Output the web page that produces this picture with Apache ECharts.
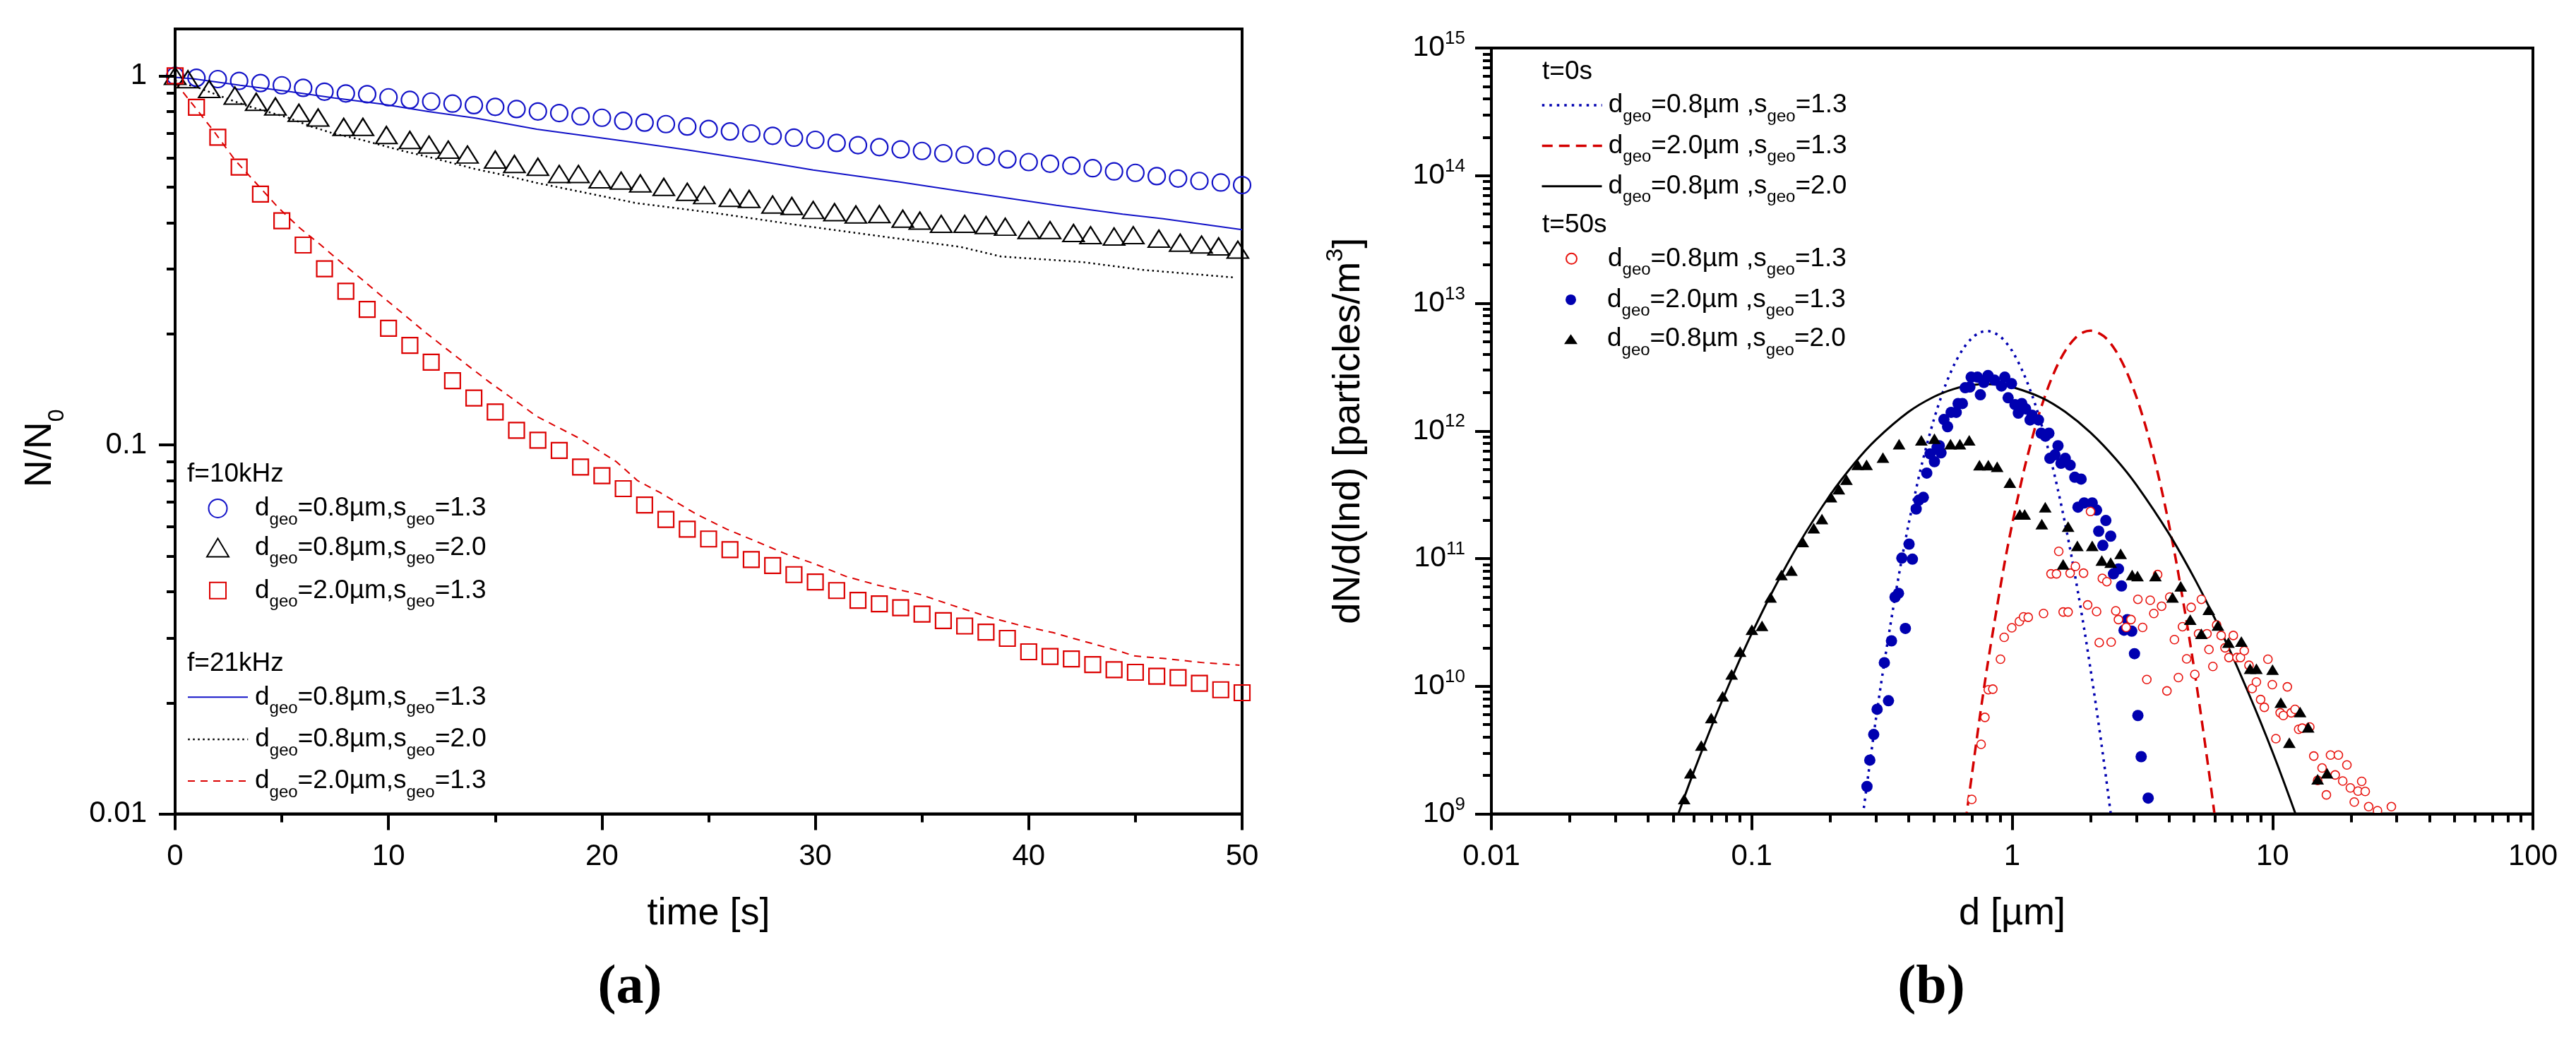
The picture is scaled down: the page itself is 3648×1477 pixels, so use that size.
<!DOCTYPE html>
<html><head><meta charset="utf-8">
<script src="https://cdn.jsdelivr.net/npm/echarts@6/dist/echarts.min.js"></script>
<style>html,body{margin:0;padding:0;background:#fff}#c{width:3648px;height:1477px}</style>
</head><body><div id="c"></div>
<script>
// ================= Panel (a) data =================
const timeA = [0,1,2,3,4,5,6,7,8,9,10,11,12,13,14,15,16,17,18,19,20,21,22,23,24,25,26,27,28,29,30,31,32,33,34,35,36,37,38,39,40,41,42,43,44,45,46,47,48,49,50];
// f=10kHz, dgeo=0.8, sgeo=1.3 (blue circles)
const circ10 = [1.0,0.988,0.980,0.969,0.956,0.943,0.928,0.906,0.896,0.892,0.875,0.861,0.852,0.841,0.833,0.824,0.813,0.801,0.793,0.777,0.770,0.755,0.747,0.740,0.729,0.718,0.707,0.698,0.688,0.680,0.671,0.658,0.649,0.641,0.632,0.626,0.617,0.611,0.604,0.594,0.584,0.578,0.571,0.562,0.551,0.546,0.535,0.527,0.519,0.514,0.506];
// f=10kHz, dgeo=0.8, sgeo=2.0 (black triangles)
const triTime10 = [0,0.6,1.6,2.8,3.8,4.7,5.8,6.7,7.9,8.8,9.9,11.0,11.9,12.8,13.7,15.0,15.9,17.0,18.0,18.9,19.9,20.9,21.8,22.9,24.0,24.8,26.0,26.9,28.0,28.9,29.9,30.9,31.9,33.0,34.1,34.9,35.9,37.0,38.0,38.9,40.0,41.0,42.1,42.9,44.0,44.9,46.1,47.1,48.1,48.9,49.8];
const tri10 = [1.0,0.979,0.921,0.884,0.850,0.826,0.794,0.771,0.727,0.727,0.691,0.670,0.651,0.631,0.612,0.593,0.577,0.567,0.542,0.542,0.524,0.520,0.511,0.500,0.485,0.475,0.467,0.464,0.448,0.444,0.433,0.427,0.421,0.422,0.410,0.405,0.397,0.397,0.394,0.390,0.382,0.382,0.375,0.370,0.367,0.370,0.362,0.353,0.349,0.345,0.338];
// f=10kHz, dgeo=2.0, sgeo=1.3 (red squares)
const sq10 = [1.0,0.822,0.682,0.566,0.478,0.405,0.348,0.300,0.261,0.233,0.207,0.186,0.1676,0.1492,0.134,0.1228,0.1095,0.103,0.0966,0.0871,0.0825,0.0761,0.0687,0.0628,0.0591,0.0556,0.0520,0.0489,0.0471,0.0445,0.0425,0.0403,0.0379,0.0371,0.0362,0.0348,0.0334,0.0323,0.0311,0.0299,0.0275,0.0267,0.0263,0.0254,0.0246,0.0242,0.0236,0.0234,0.0226,0.0217,0.0213];
// f=21kHz lines
const blue21T = [0,0.84,3.05,5.26,7.46,9.67,11.87,14.08,16.95,21.6,24.0,27.2,29.9,33.9,37.2,41.3,44.4,46.3,50];
const blue21V = [0.991,0.982,0.943,0.908,0.871,0.839,0.800,0.768,0.717,0.659,0.630,0.590,0.556,0.516,0.483,0.446,0.422,0.410,0.383];
const black21T = [0,1.17,2.1,3.38,5.25,6.35,7.46,8.56,9.66,10.77,11.87,12.97,14.07,15.18,16.94,21.62,25.42,29.21,33.0,36.8,38.7,42.5,45.35,49.7];
const black21V = [0.97,0.925,0.882,0.829,0.772,0.730,0.697,0.675,0.649,0.624,0.603,0.581,0.559,0.542,0.513,0.452,0.424,0.394,0.368,0.344,0.324,0.313,0.298,0.284];
const red21T = [0,0.84,1.83,2.82,3.82,4.81,5.8,6.8,7.79,8.78,9.77,10.77,11.76,12.75,13.74,14.74,15.73,16.94,18.97,20.68,21.67,22.72,24.43,25.85,27.28,28.6,29.93,31.45,32.97,34.87,36.39,38.1,39.62,41.14,42.09,44.18,44.94,46.27,48.17,49.88];
const red21V = [0.96,0.835,0.706,0.590,0.510,0.441,0.389,0.349,0.312,0.280,0.2505,0.2244,0.201,0.1814,0.1637,0.1478,0.1345,0.1195,0.1040,0.0900,0.0800,0.0743,0.0649,0.0591,0.0546,0.0507,0.0477,0.0440,0.0416,0.0394,0.0368,0.0342,0.0324,0.0310,0.0299,0.0277,0.0268,0.0264,0.0257,0.0253];
// axis ticks (a)
const xTicksA = [0,10,20,30,40,50];
const xTickLabelsA = ['0','10','20','30','40','50'];
const xMinorA = [5,15,25,35,45];
const yTicksA = [0.01,0.1,1];
const yTickLabelsA = ['0.01','0.1','1'];
const yMinorA = [0.02,0.03,0.04,0.05,0.06,0.07,0.08,0.09,0.2,0.3,0.4,0.5,0.6,0.7,0.8,0.9];

// ================= Panel (b) data =================
// t=0s curves
const t0BlueD = [0.265,0.27,0.28,0.30,0.32,0.35,0.375,0.40,0.425,0.45,0.50,0.55,0.60,0.65,0.70,0.75,0.80,0.90,1.0,1.1,1.2,1.3,1.4,1.5,1.6,1.7,1.8,1.9,2.0,2.1,2.2,2.3,2.4];
const t0BlueN = [8.5e8,1.15e9,2.0e9,5.6e9,1.36e10,4.2e10,9.4e10,1.85e11,3.3e11,5.5e11,1.22e12,2.19e12,3.33e12,4.44e12,5.33e12,5.89e12,6.07e12,5.49e12,4.23e12,2.90e12,1.84e12,1.10e12,6.24e11,3.44e11,1.85e11,9.8e10,5.1e10,2.65e10,1.36e10,7.0e9,3.6e9,1.85e9,9.5e8];
const t0RedD = [0.6625,0.675,0.70,0.75,0.80,0.875,0.9375,1.0,1.0625,1.125,1.25,1.375,1.5,1.625,1.75,1.875,2.0,2.25,2.5,2.75,3.0,3.25,3.5,3.75,4.0,4.25,4.5,4.75,5.0,5.25,5.5,5.75,6.0];
const t0RedN = [8.6e8,1.16e9,2.0e9,5.6e9,1.37e10,4.2e10,9.5e10,1.86e11,3.3e11,5.5e11,1.23e12,2.2e12,3.35e12,4.46e12,5.36e12,5.92e12,6.1e12,5.52e12,4.25e12,2.92e12,1.85e12,1.1e12,6.28e11,3.46e11,1.86e11,9.9e10,5.1e10,2.66e10,1.37e10,7.0e9,3.6e9,1.86e9,9.6e8];
const t0BlackD = [0.05,0.055,0.06,0.07,0.08,0.09,0.1,0.12,0.15,0.2,0.25,0.3,0.4,0.5,0.6,0.7,0.8,0.9,1.0,1.3,1.6,2.0,2.5,3.0,4.0,5.0,6.0,7.0,8.0,9.0,10,11,12.5];
const t0BlackN = [7.8e8,1.34e9,2.16e9,4.83e9,9.3e9,1.62e10,2.59e10,5.5e10,1.26e11,3.15e11,5.7e11,8.55e11,1.41e12,1.85e12,2.14e12,2.29e12,2.33e12,2.29e12,2.21e12,1.82e12,1.41e12,9.7e11,6.03e11,3.78e11,1.57e11,7.06e10,3.4e10,1.74e10,9.3e9,5.24e9,3.05e9,1.83e9,8.95e8];
// t=50s markers
const t50RedD = [0.70,0.76,0.786,0.81,0.843,0.902,0.932,0.997,1.066,1.106,1.153,1.32,1.41,1.48,1.51,1.57,1.64,1.67,1.75,1.88,1.95,2.0,2.11,2.16,2.22,2.31,2.40,2.5,2.56,2.74,2.86,3.04,3.17,3.29,3.39,3.5,3.62,3.75,3.93,4.03,4.2,4.35,4.51,4.68,4.87,5.03,5.2,5.33,5.6,5.7,5.9,6.1,6.35,6.57,6.8,7.07,7.3,7.53,7.79,8.12,8.35,8.67,9.0,9.3,9.6,9.98,10.3,10.7,11.0,11.4,11.8,12.2,12.6,13.0,13.9,14.4,14.9,15.5,16.1,16.7,17.4,17.9,18.6,19.3,19.9,20.6,21.3,22.0,22.7,23.4,25.3,28.6];
const t50RedN = [1.30e9,3.51e9,5.71e9,9.4e9,9.5e9,1.63e10,2.42e10,2.87e10,3.22e10,3.5e10,3.47e10,3.72e10,7.6e10,7.6e10,1.14e11,3.82e10,3.82e10,7.7e10,8.7e10,7.7e10,4.34e10,2.34e11,3.85e10,2.2e10,7.0e10,6.6e10,2.22e10,3.9e10,3.33e10,2.89e10,3.33e10,4.8e10,2.89e10,1.13e10,4.72e10,3.72e10,7.5e10,4.24e10,9.2e9,5.0e10,2.32e10,1.17e10,2.93e10,1.64e10,4.15e10,1.24e10,2.58e10,4.8e10,2.58e10,1.94e10,1.43e10,3.02e10,2.5e10,2.0e10,1.68e10,2.5e10,1.68e10,1.68e10,1.9e10,1.46e10,9.6e9,1.08e10,7.87e9,6.84e9,1.63e10,1.03e10,3.89e9,6.2e9,5.9e9,9.9e9,6.2e9,6.6e9,4.6e9,4.7e9,4.8e9,2.84e9,1.83e9,2.29e9,1.41e9,2.89e9,2.02e9,2.89e9,1.81e9,2.42e9,1.6e9,1.24e9,1.51e9,1.8e9,1.5e9,1.14e9,1.06e9,1.14e9];
const t50BlueD = [0.277,0.284,0.294,0.303,0.323,0.335,0.344,0.355,0.366,0.377,0.389,0.402,0.414,0.428,0.438,0.456,0.470,0.484,0.503,0.515,0.525,0.533,0.547,0.565,0.583,0.610,0.620,0.644,0.660,0.688,0.696,0.736,0.755,0.779,0.808,0.856,0.910,0.937,0.965,0.994,1.025,1.056,1.089,1.126,1.172,1.192,1.262,1.293,1.342,1.384,1.396,1.46,1.50,1.54,1.60,1.67,1.74,1.79,1.84,1.89,2.03,2.11,2.15,2.23,2.29,2.39,2.45,2.56,2.63,2.69,2.77,2.88,2.95,3.04,3.13,3.33];
const t50BlueN = [1.64e9,2.64e9,4.19e9,6.6e9,1.53e10,7.7e9,2.27e10,5.0e10,5.35e10,1.01e11,2.84e10,1.3e11,9.9e10,2.45e11,2.87e11,3.02e11,4.68e11,6.62e11,5.75e11,7.43e11,7.66e11,6.74e11,1.23e12,1.08e12,1.40e12,1.40e12,1.64e12,1.64e12,2.18e12,2.21e12,2.64e12,2.64e12,1.92e12,2.40e12,2.72e12,2.50e12,2.25e12,2.64e12,1.82e12,2.35e12,1.61e12,1.38e12,1.64e12,1.49e12,1.22e12,1.33e12,1.22e12,9.6e11,9.1e11,9.6e11,6.1e11,6.5e11,7.66e11,5.58e11,6.1e11,5.4e11,4.34e11,2.53e11,4.2e11,2.73e11,2.73e11,2.4e11,1.64e11,1.27e11,1.99e11,1.50e11,7.6e10,8.3e10,6.1e10,2.75e10,3.33e10,2.7e10,1.8e10,5.9e9,2.81e9,1.33e9];
const t50TriD = [0.0550,0.0581,0.0640,0.0699,0.0773,0.0837,0.0902,0.1001,0.1095,0.1181,0.130,0.142,0.157,0.173,0.186,0.2015,0.216,0.231,0.255,0.276,0.319,0.368,0.448,0.503,0.58,0.63,0.684,0.749,0.81,0.876,0.98,1.07,1.117,1.30,1.34,1.57,1.64,1.78,2.03,2.21,2.39,2.61,2.89,3.03,3.55,4.13,4.44,4.83,5.33,5.69,6.17,6.77,7.59,8.2,8.67,10.0,10.76,11.6,12.76,13.7,14.9,16.2];
const t50TriN = [1.31e9,2.08e9,3.43e9,5.65e9,8.36e9,1.24e10,1.87e10,2.77e10,2.97e10,4.97e10,7.45e10,8.06e10,1.35e11,1.73e11,2.04e11,3.03e11,3.5e11,4.15e11,5.43e11,5.43e11,6.18e11,7.87e11,8.45e11,8.69e11,7.87e11,7.87e11,8.45e11,5.4e11,5.4e11,5.24e11,3.94e11,2.22e11,2.22e11,1.86e11,2.53e11,9.0e10,1.78e11,1.26e11,1.26e11,9.65e10,9.3e10,1.09e11,7.45e10,7.3e10,7.3e10,4.96e10,6.08e10,3.33e10,2.58e10,3.97e10,2.99e10,2.2e10,2.24e10,1.37e10,1.37e10,1.35e10,7.45e9,3.61e9,6.28e9,4.77e9,1.87e9,2.08e9];
// axis ticks (b)
const xTicksB = [0.01,0.1,1,10,100];
const xTickLabelsB = ['0.01','0.1','1','10','100'];
const xMinorB = [0.02,0.03,0.04,0.05,0.06,0.07,0.08,0.09,0.2,0.3,0.4,0.5,0.6,0.7,0.8,0.9,2,3,4,5,6,7,8,9,20,30,40,50,60,70,80,90];
const yTicksB = [1e9,1e10,1e11,1e12,1e13,1e14,1e15];
const yTickExpB = ['9','10','11','12','13','14','15'];
const yMinorB = [2e9,3e9,4e9,5e9,6e9,7e9,8e9,9e9,2e10,3e10,4e10,5e10,6e10,7e10,8e10,9e10,2e11,3e11,4e11,5e11,6e11,7e11,8e11,9e11,2e12,3e12,4e12,5e12,6e12,7e12,8e12,9e12,2e13,3e13,4e13,5e13,6e13,7e13,8e13,9e13,2e14,3e14,4e14,5e14,6e14,7e14,8e14,9e14];

// series names (zero-width space distinguishes identical legend labels)
const NA_C = 'dgeo=0.8µm,sgeo=1.3';
const NA_T = 'dgeo=0.8µm,sgeo=2.0';
const NA_S = 'dgeo=2.0µm,sgeo=1.3';
const NA_L1 = 'dgeo=0.8µm,sgeo=1.3\u200b';
const NA_L2 = 'dgeo=0.8µm,sgeo=2.0\u200b';
const NA_L3 = 'dgeo=2.0µm,sgeo=1.3\u200b';
const NB_L1 = 'dgeo=0.8µm ,sgeo=1.3';
const NB_L2 = 'dgeo=2.0µm ,sgeo=1.3';
const NB_L3 = 'dgeo=0.8µm ,sgeo=2.0';
const NB_M1 = 'dgeo=0.8µm ,sgeo=1.3\u200b';
const NB_M2 = 'dgeo=2.0µm ,sgeo=1.3\u200b';
const NB_M3 = 'dgeo=0.8µm ,sgeo=2.0\u200b';

// ================= helpers =================
const FONT = '"Liberation Sans", Arial, Helvetica, sans-serif';
const SERIF = '"Liberation Serif", "Times New Roman", serif';
const zip = (xs, ys) => xs.map((x, i) => [x, ys[i]]);
function pick(ticks, labels, v, isLog) {
  let best = 0, bd = Infinity;
  ticks.forEach((t, i) => {
    const d = isLog ? Math.abs(Math.log10(t) - Math.log10(v)) : Math.abs(t - v);
    if (d < bd) { bd = d; best = i; }
  });
  return labels[best];
}
function richName(n) {
  const parts = n.replace(/\u200b/g, '').split('geo');
  return '{m|' + parts.join('}{s|geo}{m|') + '}';
}
const legendRich = {
  m: { fontSize: 37, lineHeight: 56, fontFamily: FONT, color: '#000' },
  s: { fontSize: 24, lineHeight: 20, verticalAlign: 'bottom', fontFamily: FONT, color: '#000' }
};
// one legend per row: icon centred at cx, text starting at textX, row centred at cy
function leg(name, cx, cy, w, h, textX, extra) {
  const left = cx - w / 2;
  return Object.assign({
    data: [name], left: left, top: cy - 16, padding: 0, orient: 'horizontal',
    selectedMode: false, itemWidth: w, itemHeight: h, symbolKeepAspect: false,
    formatter: richName,
    textStyle: { rich: legendRich, padding: [0, 0, 0, Math.max(0, textX - (left + w + 5))] }
  }, extra || {});
}
const lineLeg = (wd) => ({ itemStyle: { opacity: 0 }, lineStyle: { width: wd } });

const AX = { color: '#000', width: 4 };
function mainAxis(o) {
  return Object.assign({
    z: 5,
    axisLine: { show: true, onZero: false, lineStyle: AX },
    axisTick: { show: true, inside: false, length: 23, lineStyle: AX, customValues: o.ticks },
    axisLabel: { show: true, fontSize: 42, color: '#000', fontFamily: FONT, customValues: o.ticks },
    splitLine: { show: false }, minorTick: { show: false }, minorSplitLine: { show: false },
    nameMoveOverlap: false
  }, o.opt);
}
function minorAxis(o) {
  return Object.assign({
    z: 5,
    axisLine: { show: false, onZero: false },
    axisTick: { show: true, inside: false, length: 12, lineStyle: AX, customValues: o.ticks },
    axisLabel: { show: false },
    splitLine: { show: false }
  }, o.opt);
}

const BLUE_A = '#1212c8', RED_A = '#dc0000';
const BLUE_B = '#0000b0', RED_B = '#d40000', RED_O = '#e8140f';
const Y_MAX_B = 1.000001e15;

const chart = echarts.init(document.getElementById('c'), null, { renderer: 'canvas', width: 3648, height: 1477 });
const option = {
  animation: false,
  backgroundColor: '#fff',
  grid: [
    { left: 248, top: 41, width: 1511, height: 1111.6, show: true, borderColor: '#000', borderWidth: 4, containLabel: false, outerBoundsMode: 'none' },
    { left: 2112, top: 68, width: 1475, height: 1084.6, show: true, borderColor: '#000', borderWidth: 4, containLabel: false, outerBoundsMode: 'none' }
  ],
  xAxis: [
    mainAxis({ ticks: xTicksA, opt: { gridIndex: 0, type: 'value', position: 'bottom', min: 0, max: 50,
      axisLabel: { show: true, fontSize: 42, color: '#000', fontFamily: FONT, margin: 40, customValues: xTicksA, formatter: v => pick(xTicksA, xTickLabelsA, v, false) },
      name: 'time [s]', nameLocation: 'middle', nameGap: 115,
      nameTextStyle: { fontSize: 54, lineHeight: 54, color: '#000', fontFamily: FONT } } }),
    minorAxis({ ticks: xMinorA, opt: { gridIndex: 0, type: 'value', position: 'bottom', min: 0, max: 50 } }),
    mainAxis({ ticks: xTicksB, opt: { gridIndex: 1, type: 'log', logBase: 10, position: 'bottom', min: 0.01, max: 100,
      axisLabel: { show: true, fontSize: 42, color: '#000', fontFamily: FONT, margin: 40, customValues: xTicksB, formatter: v => pick(xTicksB, xTickLabelsB, v, true) },
      name: 'd [µm]', nameLocation: 'middle', nameGap: 115,
      nameTextStyle: { fontSize: 54, lineHeight: 54, color: '#000', fontFamily: FONT } } }),
    minorAxis({ ticks: xMinorB, opt: { gridIndex: 1, type: 'log', logBase: 10, position: 'bottom', min: 0.01, max: 100 } })
  ],
  yAxis: [
    mainAxis({ ticks: yTicksA, opt: { gridIndex: 0, type: 'log', logBase: 10, position: 'left', min: 0.01, max: 1.34,
      axisLabel: { show: true, fontSize: 42, color: '#000', fontFamily: FONT, margin: 40, customValues: yTicksA, formatter: v => pick(yTicksA, yTickLabelsA, v, true) },
      name: '{m|N/N}{s|0}', nameLocation: 'middle', nameGap: 151, nameRotate: 90,
      nameTextStyle: { padding: [0, 76, 0, 0], rich: {
        m: { fontSize: 54, lineHeight: 80, color: '#000', fontFamily: FONT },
        s: { fontSize: 32, lineHeight: 20, verticalAlign: 'bottom', color: '#000', fontFamily: FONT } } } } }),
    minorAxis({ ticks: yMinorA, opt: { gridIndex: 0, type: 'log', logBase: 10, position: 'left', min: 0.01, max: 1.34 } }),
    mainAxis({ ticks: yTicksB, opt: { gridIndex: 1, type: 'log', logBase: 10, position: 'left', min: 1e9, max: Y_MAX_B,
      axisLabel: { show: true, margin: 37, color: '#000', fontFamily: FONT, customValues: yTicksB,
        formatter: v => '{b|10}{p|' + pick(yTicksB, yTickExpB, v, true) + '}',
        rich: { b: { fontSize: 41, lineHeight: 52, color: '#000', fontFamily: FONT },
                p: { fontSize: 26, lineHeight: 18, verticalAlign: 'top', color: '#000', fontFamily: FONT } } },
      name: '{m|dN/d(lnd) [particles/m}{p|3}{m|]}', nameLocation: 'middle', nameGap: 167, nameRotate: 90,
      nameTextStyle: { rich: {
        m: { fontSize: 54, lineHeight: 70, color: '#000', fontFamily: FONT },
        p: { fontSize: 34, lineHeight: 20, verticalAlign: 'top', color: '#000', fontFamily: FONT } } } } }),
    minorAxis({ ticks: yMinorB, opt: { gridIndex: 1, type: 'log', logBase: 10, position: 'left', min: 1e9, max: Y_MAX_B } })
  ],
  legend: [
    leg(NA_C, 307.5, 717.4, 26, 26, 360),
    leg(NA_T, 307.5, 773, 31, 26, 360),
    leg(NA_S, 307.5, 833.8, 23, 23, 360),
    leg(NA_L1, 307.5, 984.8, 85, 26, 360, lineLeg(2)),
    leg(NA_L2, 307.5, 1044.6, 85, 26, 360, lineLeg(2.5)),
    leg(NA_L3, 307.5, 1103.4, 85, 26, 360, lineLeg(2)),
    leg(NB_L1, 2224.5, 146.4, 85, 20, 2276, lineLeg(3.5)),
    leg(NB_L2, 2224.5, 204, 85, 20, 2276, lineLeg(3.5)),
    leg(NB_L3, 2224.5, 261.2, 85, 20, 2276, lineLeg(3)),
    leg(NB_M1, 2224.5, 363.8, 15, 15, 2276),
    leg(NB_M2, 2224.5, 421.9, 15, 15, 2276),
    leg(NB_M3, 2224.5, 477.7, 19, 14, 2276)
  ],
  graphic: [
    { type: 'text', x: 265, y: 671.6, style: { text: 'f=10kHz', font: '37px ' + FONT, fill: '#000', align: 'left', verticalAlign: 'middle' } },
    { type: 'text', x: 265, y: 939.5, style: { text: 'f=21kHz', font: '37px ' + FONT, fill: '#000', align: 'left', verticalAlign: 'middle' } },
    { type: 'text', x: 2184, y: 102, style: { text: 't=0s', font: '37px ' + FONT, fill: '#000', align: 'left', verticalAlign: 'middle' } },
    { type: 'text', x: 2184, y: 319, style: { text: 't=50s', font: '37px ' + FONT, fill: '#000', align: 'left', verticalAlign: 'middle' } },
    { type: 'text', x: 892, y: 1400, style: { text: '(a)', font: 'bold 78px ' + SERIF, fill: '#000', align: 'center', verticalAlign: 'middle' } },
    { type: 'text', x: 2735, y: 1400, style: { text: '(b)', font: 'bold 78px ' + SERIF, fill: '#000', align: 'center', verticalAlign: 'middle' } }
  ],
  series: [
    // ---- panel (a): f=21kHz simulation lines
    { type: 'line', name: NA_L1, xAxisIndex: 0, yAxisIndex: 0, data: zip(blue21T, blue21V), symbol: 'none', showSymbol: false,
      lineStyle: { color: BLUE_A, width: 2, type: 'solid' }, itemStyle: { color: BLUE_A }, z: 2 },
    { type: 'line', name: NA_L2, xAxisIndex: 0, yAxisIndex: 0, data: zip(black21T, black21V), symbol: 'none', showSymbol: false,
      lineStyle: { color: '#000', width: 2.5, type: [2.5, 4.5] }, itemStyle: { color: '#000' }, z: 2 },
    { type: 'line', name: NA_L3, xAxisIndex: 0, yAxisIndex: 0, data: zip(red21T, red21V), symbol: 'none', showSymbol: false,
      lineStyle: { color: RED_A, width: 2, type: [10, 8] }, itemStyle: { color: RED_A }, z: 2 },
    // ---- panel (a): f=10kHz markers
    { type: 'scatter', name: NA_C, xAxisIndex: 0, yAxisIndex: 0, data: zip(timeA, circ10), symbol: 'circle', symbolSize: 24,
      itemStyle: { color: 'rgba(255,255,255,0)', borderColor: BLUE_A, borderWidth: 2.2, opacity: 1 }, z: 3 },
    { type: 'scatter', name: NA_T, xAxisIndex: 0, yAxisIndex: 0, data: zip(triTime10, tri10), symbol: 'triangle', symbolSize: [30, 24],
      itemStyle: { color: 'rgba(255,255,255,0)', borderColor: '#000', borderWidth: 2.2, opacity: 1 }, z: 3 },
    { type: 'scatter', name: NA_S, xAxisIndex: 0, yAxisIndex: 0, data: zip(timeA, sq10), symbol: 'rect', symbolSize: 22,
      itemStyle: { color: 'rgba(255,255,255,0)', borderColor: RED_A, borderWidth: 2.2, opacity: 1 }, z: 3 },
    // ---- panel (b): t=0s curves
    { type: 'line', name: NB_L1, xAxisIndex: 2, yAxisIndex: 2, data: zip(t0BlueD, t0BlueN), symbol: 'none', showSymbol: false, smooth: 0.3,
      lineStyle: { color: BLUE_B, width: 3.5, type: [3.5, 7] }, itemStyle: { color: BLUE_B }, z: 2 },
    { type: 'line', name: NB_L2, xAxisIndex: 2, yAxisIndex: 2, data: zip(t0RedD, t0RedN), symbol: 'none', showSymbol: false, smooth: 0.3,
      lineStyle: { color: RED_B, width: 3.5, type: [15, 9] }, itemStyle: { color: RED_B }, z: 2 },
    { type: 'line', name: NB_L3, xAxisIndex: 2, yAxisIndex: 2, data: zip(t0BlackD, t0BlackN), symbol: 'none', showSymbol: false, smooth: 0.3,
      lineStyle: { color: '#000', width: 3, type: 'solid' }, itemStyle: { color: '#000' }, z: 2 },
    // ---- panel (b): t=50s markers
    { type: 'scatter', name: NB_M2, xAxisIndex: 2, yAxisIndex: 2, data: zip(t50BlueD, t50BlueN), symbol: 'circle', symbolSize: 16,
      itemStyle: { color: BLUE_B, opacity: 1 }, z: 3 },
    { type: 'scatter', name: NB_M1, xAxisIndex: 2, yAxisIndex: 2, data: zip(t50RedD, t50RedN), symbol: 'circle', symbolSize: 12,
      itemStyle: { color: '#fff', borderColor: RED_O, borderWidth: 1.6, opacity: 1 }, z: 4 },
    { type: 'scatter', name: NB_M3, xAxisIndex: 2, yAxisIndex: 2, data: zip(t50TriD, t50TriN), symbol: 'triangle', symbolSize: [18, 15],
      itemStyle: { color: '#000', opacity: 1 }, z: 5 }
  ]
};
chart.setOption(option);
</script>
</body></html>
